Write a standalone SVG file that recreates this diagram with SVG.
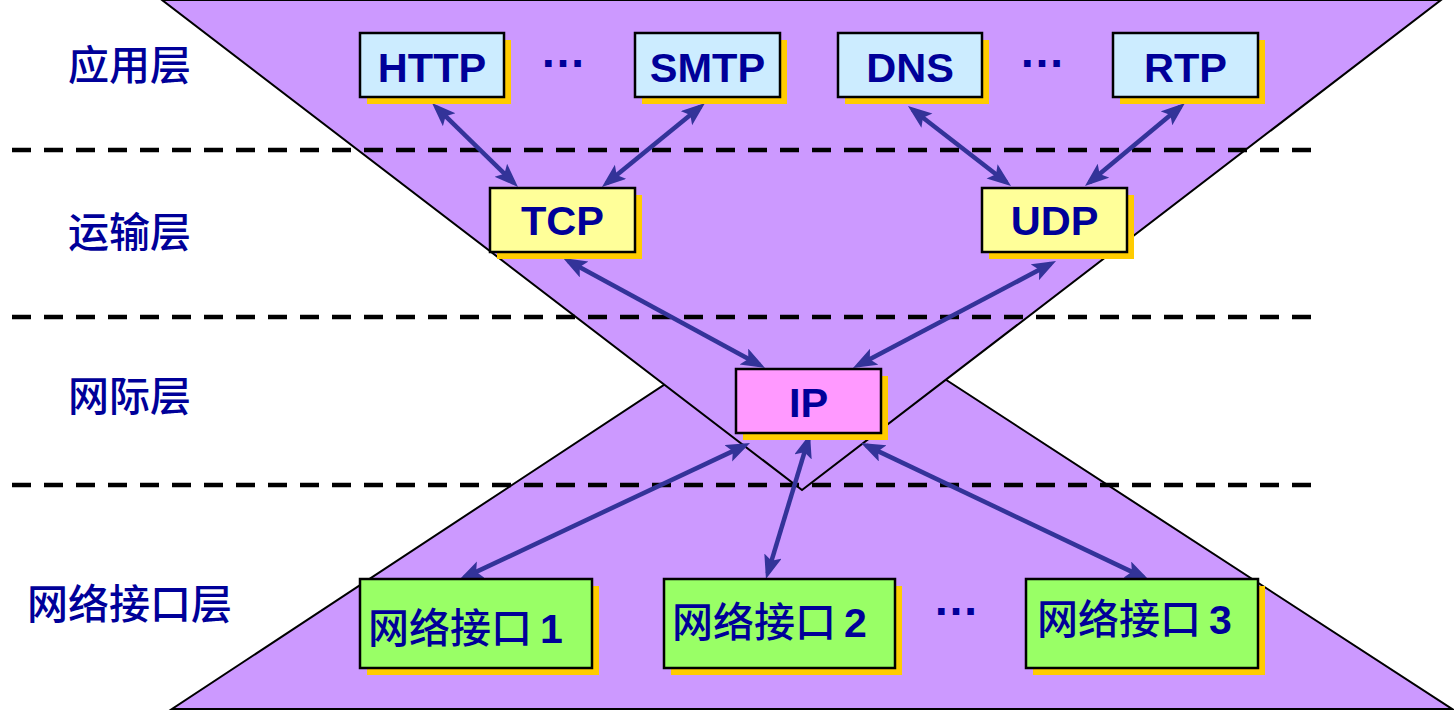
<svg xmlns="http://www.w3.org/2000/svg" width="1454" height="711" viewBox="0 0 1454 711">
<style>
.tri{fill:#CC99FF;stroke:#000;stroke-width:2}
.dash{stroke:#000;stroke-width:4.5;stroke-dasharray:19 13;fill:none}
.box{stroke:#000;stroke-width:2.5}
.sh{fill:#FFCC00}
.app{fill:#CCECFF}
.tr{fill:#FFFF99}
.ip{fill:#FF99FF}
.net{fill:#99FF66}
.lbl{font-family:"Liberation Sans",Arial,sans-serif;font-weight:bold;font-size:41.5px;fill:#000099;text-anchor:middle}
.cn{font-family:"Noto Sans CJK SC","Liberation Sans",sans-serif;font-size:41px;font-weight:500;fill:#000099}
.num{font-family:"Liberation Sans",Arial,sans-serif;font-weight:bold}
.dots{font-family:"Liberation Sans",Arial,sans-serif;font-weight:bold;font-size:46px;fill:#000099;text-anchor:middle}
.arr{stroke:#333399;stroke-width:4.5;fill:none;marker-start:url(#ah);marker-end:url(#ah)}
</style>
<defs>
<marker id="ah" markerUnits="userSpaceOnUse" markerWidth="26" markerHeight="20" refX="18" refY="9" orient="auto-start-reverse" viewBox="0 0 26 20">
<path d="M0,0 L24,9 L0,18 L5,9 z" fill="#333399"/>
</marker>
</defs>
<rect width="1454" height="711" fill="#fff"/>
<g id="background">
<polygon class="tri" points="808,290 1452,709 172,709"/>
<polygon class="tri" points="162,0 1441,0 802,490"/>
<line class="dash" x1="12" y1="150" x2="1312" y2="150"/>
<line class="dash" x1="12" y1="317" x2="1312" y2="317"/>
<line class="dash" x1="12" y1="485" x2="1312" y2="485"/>
</g>
<g id="layer-labels">
<text class="cn" x="68" y="80">应用层</text>
<text class="cn" x="68" y="247">运输层</text>
<text class="cn" x="68" y="411">网际层</text>
<text class="cn" x="27" y="619">网络接口层</text>
</g>
<g id="connectors">
<line class="arr" x1="436.3" y1="107.2" x2="513.7" y2="182.8"/>
<line class="arr" x1="700.4" y1="106.8" x2="606.6" y2="183.2"/>
<line class="arr" x1="912.7" y1="109.7" x2="1006.3" y2="182.3"/>
<line class="arr" x1="1180.4" y1="106.8" x2="1089.6" y2="182.2"/>
<line class="arr" x1="568.3" y1="260.9" x2="759.7" y2="365.1"/>
<line class="arr" x1="1050.7" y1="263.8" x2="858.3" y2="365.2"/>
<line class="arr" x1="744.6" y1="445.6" x2="464.4" y2="577.4"/>
<line class="arr" x1="808.3" y1="439.7" x2="767.7" y2="573.3"/>
<line class="arr" x1="866.4" y1="445.6" x2="1143.6" y2="577.4"/>
</g>
<g id="http">
<rect class="sh" x="367" y="40" width="144" height="64"/>
<rect class="box app" x="360" y="33" width="144" height="64"/>
<text class="lbl" x="432" y="82">HTTP</text>
</g>
<g id="smtp">
<rect class="sh" x="642" y="40" width="145" height="64"/>
<rect class="box app" x="635" y="33" width="145" height="64"/>
<text class="lbl" x="707.5" y="82">SMTP</text>
</g>
<g id="dns">
<rect class="sh" x="845" y="40" width="144" height="64"/>
<rect class="box app" x="838" y="33" width="144" height="64"/>
<text class="lbl" x="910" y="82">DNS</text>
</g>
<g id="rtp">
<rect class="sh" x="1120" y="40" width="145" height="64"/>
<rect class="box app" x="1113" y="33" width="145" height="64"/>
<text class="lbl" x="1185.5" y="82">RTP</text>
</g>
<g id="dots1"><text class="dots" x="563" y="67">…</text></g>
<g id="dots2"><text class="dots" x="1042" y="67">…</text></g>
<g id="tcp">
<rect class="sh" x="497" y="195" width="145" height="64"/>
<rect class="box tr" x="490" y="188" width="145" height="64"/>
<text class="lbl" x="562.5" y="235">TCP</text>
</g>
<g id="udp">
<rect class="sh" x="989" y="195" width="145" height="64"/>
<rect class="box tr" x="982" y="188" width="145" height="64"/>
<text class="lbl" x="1054.5" y="235">UDP</text>
</g>
<g id="ip">
<rect class="sh" x="743" y="376" width="145" height="64"/>
<rect class="box ip" x="736" y="369" width="145" height="64"/>
<text class="lbl" x="808.5" y="417">IP</text>
</g>
<g id="net1">
<rect class="sh" x="367" y="586" width="232" height="89"/>
<rect class="box net" x="360" y="579" width="232" height="89"/>
<text class="cn" x="368" y="643">网络接口<tspan class="num" dx="8">1</tspan></text>
</g>
<g id="net2">
<rect class="sh" x="671" y="586" width="231" height="89"/>
<rect class="box net" x="664" y="579" width="231" height="89"/>
<text class="cn" x="672" y="637">网络接口<tspan class="num" dx="8">2</tspan></text>
</g>
<g id="dots3"><text class="dots" x="956" y="615">…</text></g>
<g id="net3">
<rect class="sh" x="1033" y="586" width="232" height="89"/>
<rect class="box net" x="1026" y="579" width="232" height="89"/>
<text class="cn" x="1037" y="634">网络接口<tspan class="num" dx="8">3</tspan></text>
</g>
</svg>
